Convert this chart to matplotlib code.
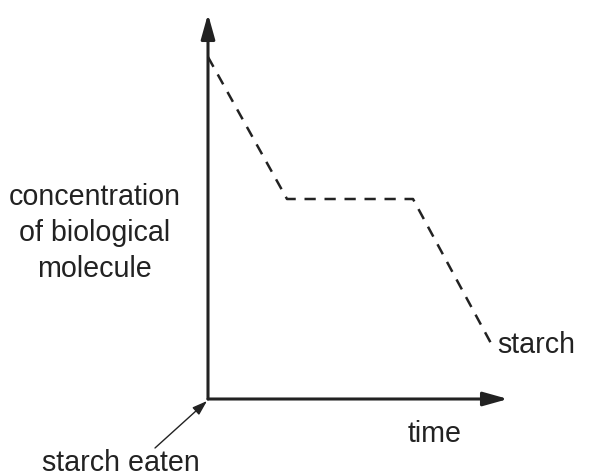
import matplotlib
matplotlib.use("Agg")
import matplotlib.pyplot as plt

# data (arbitrary units; origin at axis corner)
time = [0, 79, 205, 285]
concentration = [342, 200, 200, 52]
y_label_lines = ["concentration", "of biological", "molecule"]
x_label = "time"
series_label = "starch"
start_label = "starch eaten"

plt.rcParams['font.family'] = ['Liberation Sans', 'DejaVu Sans']
W, H = 589, 477
fig = plt.figure(figsize=(W/100, H/100), dpi=100)
ox, oy = 208, 400
xmax, ytop = 508, 15
ax = fig.add_axes([ox/W, (H-oy)/H, (xmax-ox)/W, (oy-ytop)/H])
ax.set_xlim(0, xmax-ox)
ax.set_ylim(0, oy-ytop)
ax.axis('off')

C = '#222222'
FS = 20.6
ax.plot(time, concentration, color=C, lw=1.8, ls=(0, (4.5, 3.5)), clip_on=False)

# axes with arrows
for tip in [(1, 0), (0, 1)]:
    ax.annotate('', xy=tip, xytext=(0, 0), xycoords='axes fraction',
                arrowprops=dict(arrowstyle='-|>,head_length=1.5,head_width=0.42', lw=2.2, color=C,
                                shrinkA=0, shrinkB=0))

for i, line in enumerate(y_label_lines):
    fig.text(94.5/W, 1-(205+36*i)/H, line, ha='center', va='baseline', fontsize=FS, color=C)
fig.text(497/W, 1-353/H, series_label, ha='left', va='baseline', fontsize=FS, color=C)
fig.text(435/W, 1-442/H, x_label, ha='center', va='baseline', fontsize=FS, color=C)
fig.text(42/W, 1-471/H, start_label, ha='left', va='baseline', fontsize=FS, color=C)

fig.add_artist(matplotlib.patches.FancyArrowPatch((155/W, 1-449/H), (207/W, 1-402/H),
               transform=fig.transFigure, arrowstyle='-|>,head_length=9,head_width=3',
               lw=1.0, color=C, mutation_scale=1, shrinkA=0, shrinkB=0))

fig.savefig('out.png', dpi=100)
